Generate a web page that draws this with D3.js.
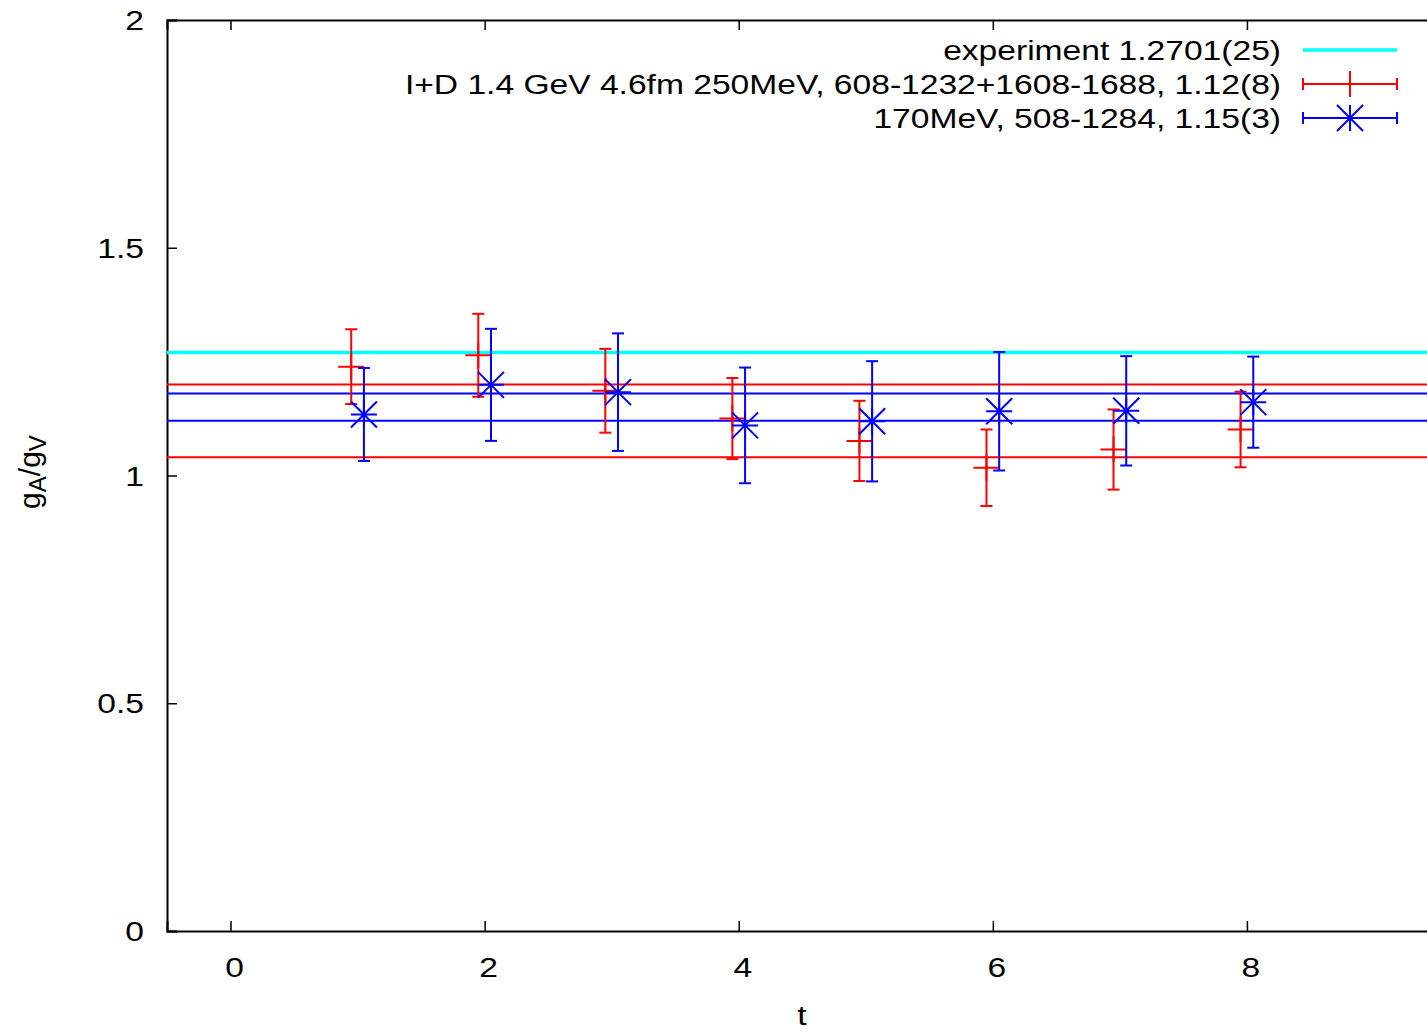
<!DOCTYPE html>
<html><head><meta charset="utf-8">
<script src="https://cdn.jsdelivr.net/npm/d3@7"></script>
<style>body{margin:0;background:#fff} text{font-family:"Liberation Sans",Arial,Helvetica,sans-serif}</style>
</head><body><svg id="c" width="1427" height="1033"></svg>
<script>
// ---- data ----
const redT   = [0.95, 1.95, 2.95, 3.95, 4.95, 5.95, 6.95, 7.95];
const redVal = [1.239, 1.264, 1.186, 1.125, 1.076, 1.017, 1.057, 1.101];
const redErr = [0.082, 0.091, 0.092, 0.089, 0.088, 0.084, 0.088, 0.083];
const blueT   = [1.05, 2.05, 3.05, 4.05, 5.05, 6.05, 7.05, 8.05];
const blueVal = [1.134, 1.199, 1.183, 1.110, 1.119, 1.141, 1.142, 1.161];
const blueErr = [0.102, 0.123, 0.129, 0.127, 0.132, 0.130, 0.120, 0.100];
const experiment = 1.2701;
const redBand  = [1.04, 1.20];
const blueBand = [1.12, 1.18];
const xTicks = [0, 2, 4, 6, 8];
const yTicks = [0, 0.5, 1, 1.5, 2];
const yTickLabels = ["0", "0.5", "1", "1.5", "2"];
const legendLabels = [
  "experiment 1.2701(25)",
  "I+D 1.4 GeV 4.6fm 250MeV, 608-1232+1608-1688, 1.12(8)",
  "170MeV, 508-1284, 1.15(3)"
];
const xDomain = [-0.5, 9.5];
const yDomain = [0, 2];

// ---- layout ----
const L = 167, T = 20, R = 1437.5, B = 931;
const svg = d3.select("#c");
const x = d3.scaleLinear().domain(xDomain).range([L, R]);
const y = d3.scaleLinear().domain(yDomain).range([B, T]);
const RED = "#ff0000", BLUE = "#0000ff", CYAN = "#00ffff";
const FS = 28, SX = 1.2;

function hText(parent, px, py, str, anchor) {
  return parent.append("g").attr("transform", `translate(${px},${py}) scale(${SX},1)`)
    .append("text").attr("x", 0).attr("y", 0).attr("text-anchor", anchor)
    .attr("font-size", FS).attr("fill", "#000").text(str);
}

svg.append("defs").append("clipPath").attr("id", "clip")
  .append("rect").attr("x", L).attr("y", T).attr("width", R - L).attr("height", B - T);

// axes with inward ticks (labels drawn separately)
const xAxB = d3.axisBottom(x).tickValues(xTicks).tickSize(-10).tickFormat("");
const xAxT = d3.axisTop(x).tickValues(xTicks).tickSize(-10).tickFormat("");
const yAxL = d3.axisLeft(y).tickValues(yTicks).tickSize(-10).tickFormat("");
const yAxR = d3.axisRight(y).tickValues(yTicks).tickSize(-10).tickFormat("");
function styleAxis(g) {
  g.selectAll("path.domain").attr("stroke", "#000").attr("stroke-width", 2);
  g.selectAll(".tick line").attr("stroke", "#000").attr("stroke-width", 1.5);
}
svg.append("g").attr("transform", `translate(0,${B})`).call(xAxB).call(styleAxis);
svg.append("g").attr("transform", `translate(0,${T})`).call(xAxT).call(styleAxis);
svg.append("g").attr("transform", `translate(${L},0)`).call(yAxL).call(styleAxis);
svg.append("g").attr("transform", `translate(${R},0)`).call(yAxR).call(styleAxis);

// tick labels
const tl = svg.append("g");
xTicks.forEach(v => hText(tl, x(v) + 4, B + 46, String(v), "middle"));
yTicks.forEach((v, i) => hText(tl, L - 23, y(v) + 10, yTickLabels[i], "end"));

const plot = svg.append("g").attr("clip-path", "url(#clip)");

// horizontal bands
plot.append("line").attr("x1", L).attr("x2", R).attr("y1", y(experiment)).attr("y2", y(experiment))
  .attr("stroke", CYAN).attr("stroke-width", 3.5);
redBand.forEach(v => plot.append("line").attr("x1", L).attr("x2", R).attr("y1", y(v)).attr("y2", y(v))
  .attr("stroke", RED).attr("stroke-width", 2));
blueBand.forEach(v => plot.append("line").attr("x1", L).attr("x2", R).attr("y1", y(v)).attr("y2", y(v))
  .attr("stroke", BLUE).attr("stroke-width", 2));

const CAP = 6, MS = 13;
function errbar(g, cx, top, bot, color) {
  g.append("line").attr("x1", cx).attr("x2", cx).attr("y1", top).attr("y2", bot).attr("stroke", color).attr("stroke-width", 2);
  g.append("line").attr("x1", cx - CAP).attr("x2", cx + CAP).attr("y1", top).attr("y2", top).attr("stroke", color).attr("stroke-width", 2);
  g.append("line").attr("x1", cx - CAP).attr("x2", cx + CAP).attr("y1", bot).attr("y2", bot).attr("stroke", color).attr("stroke-width", 2);
}
function plus(g, cx, cy, color) {
  g.append("path").attr("d", `M${cx - MS},${cy}H${cx + MS}M${cx},${cy - MS}V${cy + MS}`)
    .attr("stroke", color).attr("stroke-width", 2).attr("fill", "none");
}
function star(g, cx, cy, color) {
  const d = MS;
  g.append("path").attr("d",
    `M${cx - d},${cy}H${cx + d}M${cx},${cy - d}V${cy + d}M${cx - d},${cy - d}L${cx + d},${cy + d}M${cx - d},${cy + d}L${cx + d},${cy - d}`)
    .attr("stroke", color).attr("stroke-width", 2).attr("fill", "none");
}

const gRed = plot.append("g");
redT.forEach((t, i) => {
  errbar(gRed, x(t), y(redVal[i] + redErr[i]), y(redVal[i] - redErr[i]), RED);
  plus(gRed, x(t), y(redVal[i]), RED);
});
const gBlue = plot.append("g");
blueT.forEach((t, i) => {
  errbar(gBlue, x(t), y(blueVal[i] + blueErr[i]), y(blueVal[i] - blueErr[i]), BLUE);
  star(gBlue, x(t), y(blueVal[i]), BLUE);
});

// legend
const lg = svg.append("g");
const legX1 = 1303, legX2 = 1397, legTextX = 1281, legY0 = 50, legDY = 34;
legendLabels.forEach((lab, i) => {
  const yy = legY0 + i * legDY;
  hText(lg, legTextX, yy + 10, lab, "end");
  const cx = (legX1 + legX2) / 2;
  if (i === 0) {
    lg.append("line").attr("x1", legX1).attr("x2", legX2).attr("y1", yy).attr("y2", yy)
      .attr("stroke", CYAN).attr("stroke-width", 3.5);
  } else {
    const col = i === 1 ? RED : BLUE;
    lg.append("line").attr("x1", legX1).attr("x2", legX2).attr("y1", yy).attr("y2", yy).attr("stroke", col).attr("stroke-width", 2);
    [legX1, legX2].forEach(xx => lg.append("line").attr("x1", xx).attr("x2", xx).attr("y1", yy - CAP).attr("y2", yy + CAP)
      .attr("stroke", col).attr("stroke-width", 2));
    if (i === 1) plus(lg, cx, yy, col); else star(lg, cx, yy, col);
  }
});

// axis labels
hText(svg, 802, 1025, "t", "middle");
const yl = svg.append("text").attr("transform", "translate(40,472) rotate(-90)").attr("text-anchor", "middle").attr("font-size", 30);
yl.append("tspan").text("g");
yl.append("tspan").attr("font-size", 24).attr("dy", 6).text("A");
yl.append("tspan").attr("dy", -6).text("/g");
yl.append("tspan").attr("font-size", 24).attr("dy", 6).text("V");
</script></body></html>
